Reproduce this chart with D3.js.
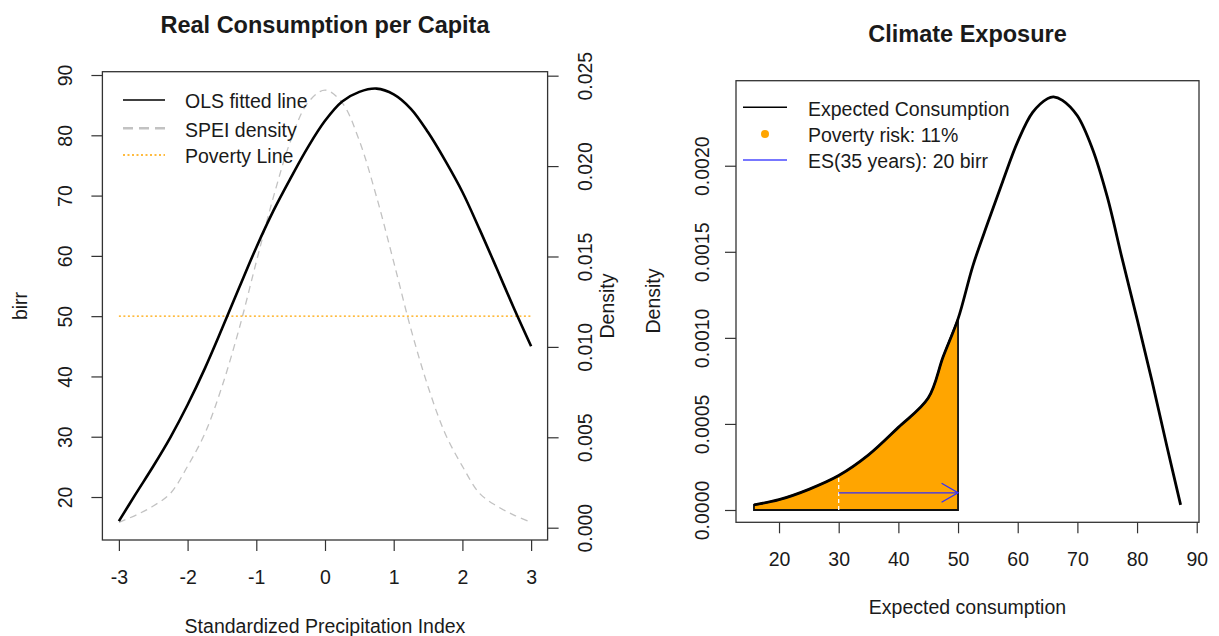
<!DOCTYPE html>
<html>
<head>
<meta charset="utf-8">
<script src="https://cdn.jsdelivr.net/npm/d3@7"></script>
<style>
  html, body { margin: 0; padding: 0; background: #ffffff; }
  svg { display: block; font-family: "Liberation Sans", Arial, sans-serif; }
</style>
</head>
<body>
<svg id="chart" width="1219" height="636"></svg>
<script>
// ---------- Left panel data ----------
const speiValues = [-3, -2.75, -2.5, -2.25, -2, -1.75, -1.5, -1.25, -1, -0.75, -0.5, -0.25, 0,
                    0.25, 0.5, 0.75, 1, 1.25, 1.5, 1.75, 2, 2.25, 2.5, 2.75, 3];
const olsFitted = [16.0, 20.6, 25.1, 29.9, 35.3, 41.3, 47.9, 54.7, 61.4, 67.5, 72.9, 78.0, 82.4,
                   85.6, 87.2, 87.75, 86.8, 84.4, 80.5, 75.8, 70.6, 64.4, 57.9, 51.3, 45.0];
const speiDensity = [0.0003, 0.0007, 0.0012, 0.0019, 0.0034, 0.0052, 0.0078, 0.0110, 0.0147, 0.0183, 0.0214, 0.0235, 0.0242,
                     0.0235, 0.0214, 0.0183, 0.0147, 0.0110, 0.0078, 0.0052, 0.0034, 0.0019, 0.0012, 0.0007, 0.0003];
const povertyLine = 50;
const leftXTicks = [-3, -2, -1, 0, 1, 2, 3];
const leftYTicks = [20, 30, 40, 50, 60, 70, 80, 90];
const leftDensTicks = [0, 0.005, 0.010, 0.015, 0.020, 0.025];
const leftLegend = ["OLS fitted line", "SPEI density", "Poverty Line"];

// ---------- Right panel data ----------
const consumption = [15.8, 20, 25, 30, 35, 40, 45, 47.5, 50, 52.5, 55, 57.5, 60, 62.5, 65, 66,
                     67.5, 70, 72.5, 75, 77.5, 80, 82.5, 85, 87.3];
const consDensity = [0.00003, 0.00006, 0.00012, 0.00020, 0.00032, 0.00048, 0.00065, 0.00089, 0.00111, 0.00142,
                     0.00167, 0.00191, 0.00214, 0.00231, 0.00239, 0.00240, 0.00238, 0.00229, 0.00210, 0.00182,
                     0.00146, 0.00111, 0.00075, 0.00037, 0.00003];
const esStart = 30;        // start of ES arrow / white marker
const esLevel = 0.0001;    // height of ES arrow
const rightXTicks = [20, 30, 40, 50, 60, 70, 80, 90];
const rightYTicks = [0, 0.0005, 0.0010, 0.0015, 0.0020];
const rightLegend = ["Expected Consumption", "Poverty risk: 11%", "ES(35 years): 20 birr"];

// ---------- styling ----------
const FONT = 19.5, TITLE_FONT = 23.5;
const TXT = "#1a1a1a", AXC = "#333333";
const ORANGE = "#FFA500", BLUE = "#2f2fff", GRAY = "#c2c2c2";
const intFmt = d => String(d);   // plain hyphen-minus like the reference
const smooth = d3.curveCatmullRom.alpha(0.5);

const svg = d3.select("#chart");
svg.append("rect").attr("width", 1219).attr("height", 636).attr("fill", "#fff");

// ---------- scales ----------
const L = {left: 102.4, right: 547.6, top: 71.7, bottom: 540};
const xL = d3.scaleLinear().domain([-3.24, 3.24]).range([L.left, L.right]);
const yL = d3.scaleLinear().domain([12.87, 90.55]).range([L.bottom, L.top]);
const yD = d3.scaleLinear().domain([-0.00068, 0.02522]).range([L.bottom, L.top]);

const R = {left: 736, right: 1199, top: 80.7, bottom: 522.3};
const xR = d3.scaleLinear().domain([12.79, 90.38]).range([R.left, R.right]);
const yR = d3.scaleLinear().domain([-0.0000715, 0.002494]).range([R.bottom, R.top]);

// ---------- helpers ----------
function rotatedYLabels(g, offset) {
  g.selectAll(".tick text")
    .attr("x", null).attr("dy", null)
    .attr("transform", `translate(${offset},0) rotate(-90)`)
    .attr("text-anchor", "middle")
    .attr("dy", "0.35em")
    .attr("fill", TXT)
    .style("font-size", FONT + "px");
}
function styleAxis(g) {
  g.select(".domain").remove();
  g.selectAll(".tick line").attr("stroke", AXC).attr("stroke-width", 1.2);
}
function xAxis(scale, ticks, yPos, fmt) {
  const g = svg.append("g").attr("transform", `translate(0,${yPos})`)
    .call(d3.axisBottom(scale).tickValues(ticks).tickSize(11).tickSizeOuter(0).tickFormat(fmt));
  styleAxis(g);
  g.selectAll(".tick text").attr("y", 36.7).attr("dy", "0.35em")
    .attr("fill", TXT).style("font-size", FONT + "px");
  g.attr("font-family", null);
  return g;
}
function yAxisLeft(scale, ticks, xPos, fmt, labelOffset) {
  const g = svg.append("g").attr("transform", `translate(${xPos},0)`)
    .call(d3.axisLeft(scale).tickValues(ticks).tickSize(11).tickSizeOuter(0).tickFormat(fmt));
  styleAxis(g);
  rotatedYLabels(g, -labelOffset);
  g.attr("font-family", null);
  return g;
}
function yAxisRight(scale, ticks, xPos, fmt, labelOffset) {
  const g = svg.append("g").attr("transform", `translate(${xPos},0)`)
    .call(d3.axisRight(scale).tickValues(ticks).tickSize(11).tickSizeOuter(0).tickFormat(fmt));
  styleAxis(g);
  rotatedYLabels(g, labelOffset);
  g.attr("font-family", null);
  return g;
}
function box(P) {
  svg.append("rect").attr("x", P.left).attr("y", P.top)
    .attr("width", P.right - P.left).attr("height", P.bottom - P.top)
    .attr("fill", "none").attr("stroke", AXC).attr("stroke-width", 1.3);
}
function text(x, y, s, opts = {}) {
  const t = svg.append("text").attr("x", x).attr("y", y).text(s)
    .attr("fill", TXT)
    .style("font-size", (opts.size || FONT) + "px")
    .attr("text-anchor", opts.anchor || "middle")
    .attr("dy", "0.35em");
  if (opts.bold) t.attr("font-weight", "bold");
  if (opts.rotate) t.attr("transform", `rotate(-90,${x},${y})`);
  return t;
}

// =============== LEFT PANEL ===============
const leftPts = speiValues.map((s, i) => ({s, fit: olsFitted[i], dens: speiDensity[i]}));

// density (dashed gray) on secondary scale
svg.append("path").datum(leftPts)
  .attr("d", d3.line().x(d => xL(d.s)).y(d => yD(d.dens)).curve(smooth))
  .attr("fill", "none").attr("stroke", GRAY).attr("stroke-width", 1.3)
  .attr("stroke-dasharray", "7,5");

// poverty line
svg.append("line")
  .attr("x1", xL(d3.min(speiValues))).attr("x2", xL(d3.max(speiValues)))
  .attr("y1", yL(povertyLine)).attr("y2", yL(povertyLine))
  .attr("stroke", ORANGE).attr("stroke-width", 1.4).attr("stroke-dasharray", "2,2.5");

// OLS fitted line
svg.append("path").datum(leftPts)
  .attr("d", d3.line().x(d => xL(d.s)).y(d => yL(d.fit)).curve(smooth))
  .attr("fill", "none").attr("stroke", "#000").attr("stroke-width", 2.6)
  .attr("stroke-linejoin", "round");

box(L);
xAxis(xL, leftXTicks, L.bottom, intFmt);
yAxisLeft(yL, leftYTicks, L.left, intFmt, 36.9);
yAxisRight(yD, leftDensTicks, L.right, d3.format(".3f"), 37.4);

text((L.left + L.right) / 2, 25, "Real Consumption per Capita", {size: TITLE_FONT, bold: true});
text((L.left + L.right) / 2, 625.7, "Standardized Precipitation Index");
text(20, 306, "birr", {rotate: true});
text(607, 306, "Density", {rotate: true});

// legend (left)
const legLY = [100, 128.3, 155];
const legLStyles = [
  {stroke: "#000", w: 1.5, dash: null},
  {stroke: GRAY, w: 2.6, dash: "10,6"},
  {stroke: ORANGE, w: 1.5, dash: "2,2.5"}
];
leftLegend.forEach((lab, i) => {
  const st = legLStyles[i];
  const ln = svg.append("line").attr("x1", 123).attr("x2", 165)
    .attr("y1", legLY[i]).attr("y2", legLY[i])
    .attr("stroke", st.stroke).attr("stroke-width", st.w);
  if (st.dash) ln.attr("stroke-dasharray", st.dash);
  text(185, legLY[i] + 1.5, lab, {anchor: "start"});
});

// =============== RIGHT PANEL ===============
const rightPts = consumption.map((c, i) => ({c, d: consDensity[i]}));
const povIdx = consumption.indexOf(povertyLine);
const shaded = rightPts.slice(0, povIdx + 1);

// shaded poverty area
const area = d3.area().x(d => xR(d.c)).y0(yR(0)).y1(d => yR(d.d)).curve(smooth);
svg.append("path").datum(shaded)
  .attr("d", area)
  .attr("fill", ORANGE).attr("stroke", "#111").attr("stroke-width", 1.8)
  .attr("stroke-linejoin", "miter");

// white dashed marker at ES start
const esStartDens = consDensity[consumption.indexOf(esStart)];
svg.append("line")
  .attr("x1", xR(esStart)).attr("x2", xR(esStart))
  .attr("y1", yR(0)).attr("y2", yR(esStartDens))
  .attr("stroke", "#fff").attr("stroke-width", 1.3).attr("stroke-dasharray", "4,3");

// ES arrow
const ax0 = xR(esStart), ax1 = xR(povertyLine), ay = yR(esLevel);
svg.append("line").attr("x1", ax0).attr("x2", ax1).attr("y1", ay).attr("y2", ay)
  .attr("stroke", BLUE).attr("stroke-width", 1.3);
const headLen = 19, ang = Math.PI / 6;
svg.append("path")
  .attr("d", `M${ax1 - headLen * Math.cos(ang)},${ay - headLen * Math.sin(ang)} L${ax1},${ay} L${ax1 - headLen * Math.cos(ang)},${ay + headLen * Math.sin(ang)}`)
  .attr("fill", "none").attr("stroke", BLUE).attr("stroke-width", 1.3);

// expected consumption density curve
svg.append("path").datum(rightPts)
  .attr("d", d3.line().x(d => xR(d.c)).y(d => yR(d.d)).curve(smooth))
  .attr("fill", "none").attr("stroke", "#000").attr("stroke-width", 2.8)
  .attr("stroke-linejoin", "round");

box(R);
xAxis(xR, rightXTicks, R.bottom, intFmt);
yAxisLeft(yR, rightYTicks, R.left, d3.format(".4f"), 33.5);

text((R.left + R.right) / 2, 33.3, "Climate Exposure", {size: TITLE_FONT, bold: true});
text((R.left + R.right) / 2, 606.7, "Expected consumption");
text(653, 301, "Density", {rotate: true});

// legend (right)
const legRY = [107.3, 134, 160];
svg.append("line").attr("x1", 743).attr("x2", 787).attr("y1", legRY[0]).attr("y2", legRY[0])
  .attr("stroke", "#000").attr("stroke-width", 1.5);
svg.append("circle").attr("cx", 765).attr("cy", legRY[1]).attr("r", 4).attr("fill", ORANGE);
svg.append("line").attr("x1", 743).attr("x2", 787).attr("y1", legRY[2]).attr("y2", legRY[2])
  .attr("stroke", "#4a4aff").attr("stroke-width", 1.5);
rightLegend.forEach((lab, i) => text(808, legRY[i] + 1.5, lab, {anchor: "start"}));
</script>
</body>
</html>
